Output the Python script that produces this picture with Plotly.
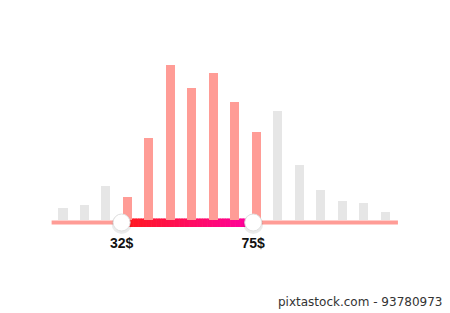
import plotly.graph_objects as go

# data
bins = list(range(16))
counts = [12, 15, 34, 23, 82, 155, 132, 147, 118, 88, 109, 55, 30, 19, 17, 8]
selected = [False, False, False, True, True, True, True, True, True, True, False, False, False, False, False, False]
handle_pos = [2.73, 8.86]
handle_labels = ["<b>32$</b>", "<b>75$</b>"]
track_range = [-0.53, 15.6]

PINK = "#ff9c96"
GRAY = "#e6e6e6"
bar_colors = [PINK if s else GRAY for s in selected]

fig = go.Figure()
fig.add_trace(go.Bar(x=bins, y=counts, marker=dict(color=bar_colors, line=dict(width=0)),
                     width=0.42, hoverinfo="skip"))

shapes = []
# base track
shapes.append(dict(type="line", xref="x", yref="y", x0=track_range[0], x1=track_range[1],
                   y0=-2.5, y1=-2.5, line=dict(color=PINK, width=4), layer="below"))
# gradient segment
N = 80
c0 = (255, 26, 26)
c1 = (255, 0, 160)
a, b = handle_pos
for i in range(N):
    t = i / (N - 1)
    col = "rgb(%d,%d,%d)" % tuple(round(c0[k] + (c1[k] - c0[k]) * t) for k in range(3))
    xa = a + (b - a) * i / N
    xb = a + (b - a) * (i + 1) / N + 0.03
    shapes.append(dict(type="rect", xref="x", yref="y", x0=xa, x1=min(xb, b), y0=-7, y1=1.5,
                       fillcolor=col, line=dict(width=0), layer="below"))
fig.update_layout(shapes=shapes)

# handle shadows and handles
fig.add_trace(go.Scatter(x=handle_pos, y=[-4, -4], mode="markers",
                         marker=dict(size=20, color="rgba(0,0,0,0.08)", line=dict(width=0)),
                         hoverinfo="skip"))
fig.add_trace(go.Scatter(x=handle_pos, y=[-2.5, -2.5], mode="markers",
                         marker=dict(size=17, color="white", line=dict(color="#e0e0e0", width=1)),
                         hoverinfo="skip"))
fig.add_trace(go.Scatter(x=handle_pos, y=[-24.5, -24.5], mode="text", text=handle_labels,
                         textfont=dict(family="Liberation Sans, Arial", size=14, color="#111111"),
                         textposition="middle center", hoverinfo="skip"))

fig.add_annotation(x=1, y=0, xref="paper", yref="paper", xanchor="right", yanchor="bottom",
                   text="pixtastock.com - 93780973", showarrow=False, xshift=-6, yshift=2,
                   font=dict(family="DejaVu Sans", size=12, color="#333333"))

fig.update_layout(
    width=450, height=313, margin=dict(l=0, r=0, t=0, b=0),
    paper_bgcolor="white", plot_bgcolor="white", showlegend=False,
    xaxis=dict(range=[-2.934, 18.025], visible=False, fixedrange=True),
    yaxis=dict(range=[-93, 220], visible=False, fixedrange=True),
    bargap=0,
)
fig.write_html("out.html")
